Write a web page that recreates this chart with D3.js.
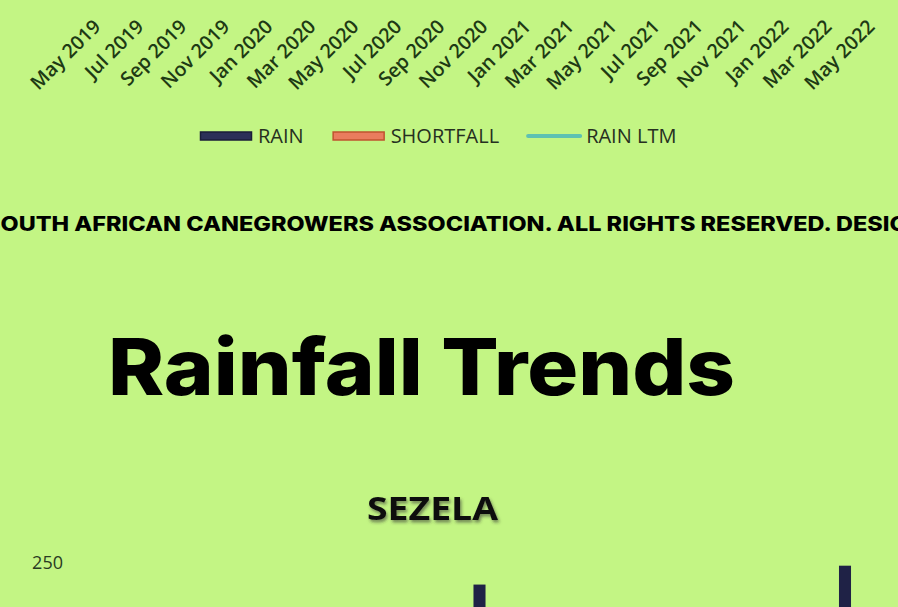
<!DOCTYPE html>
<html>
<head>
<meta charset="utf-8">
<script src="https://cdn.jsdelivr.net/npm/d3@7"></script>
<style>
  html, body { margin: 0; padding: 0; background: #c3f584; overflow: hidden; }
  svg { display: block; }
</style>
</head>
<body>
<script>
// monthly categories shared by both charts
const months = [
  'May 2019', 'Jun 2019', 'Jul 2019', 'Aug 2019', 'Sep 2019', 'Oct 2019', 'Nov 2019', 'Dec 2019',
  'Jan 2020', 'Feb 2020', 'Mar 2020', 'Apr 2020', 'May 2020', 'Jun 2020', 'Jul 2020', 'Aug 2020',
  'Sep 2020', 'Oct 2020', 'Nov 2020', 'Dec 2020', 'Jan 2021', 'Feb 2021', 'Mar 2021', 'Apr 2021',
  'May 2021', 'Jun 2021', 'Jul 2021', 'Aug 2021', 'Sep 2021', 'Oct 2021', 'Nov 2021', 'Dec 2021',
  'Jan 2022', 'Feb 2022', 'Mar 2022', 'Apr 2022', 'May 2022',
];

// every second month gets a label
const tickLabels = [
  'May 2019', 'Jul 2019', 'Sep 2019', 'Nov 2019', 'Jan 2020', 'Mar 2020', 'May 2020',
  'Jul 2020', 'Sep 2020', 'Nov 2020', 'Jan 2021', 'Mar 2021', 'May 2021', 'Jul 2021',
  'Sep 2021', 'Nov 2021', 'Jan 2022', 'Mar 2022', 'May 2022',
];

// SEZELA monthly rain (mm), only the two tallest bars are visible in the frame
const sezelaRain = [
  40, 25, 30, 45, 60, 95, 120, 140,
  150, 130, 110, 70, 45, 30, 20, 50,
  75, 130, 234, 160, 175, 140, 120, 90,
  35, 25, 15, 40, 80, 110, 145, 170,
  185, 120, 150, 248, 60,
];

const yTicks = [0, 50, 100, 150, 200, 250];

const legendItems = [
  { name: 'RAIN', kind: 'bar', fill: '#2c3058', stroke: '#1a1d38' },
  { name: 'SHORTFALL', kind: 'bar', fill: '#ea7c5e', stroke: '#c0532f' },
  { name: 'RAIN LTM', kind: 'line', fill: '#5dc1b2', stroke: '#5dc1b2' },
];

const width = 898;
const height = 607;
const excelFont = '"Open Sans", Lato, sans-serif';
const labelColor = '#1e3a14';

const svg = d3.select('body').append('svg')
  .attr('width', width)
  .attr('height', height);

svg.append('rect')
  .attr('width', width)
  .attr('height', height)
  .attr('fill', '#c3f584');

const defs = svg.append('defs');
defs.append('filter')
  .attr('id', 'shadow')
  .attr('x', '-10%').attr('y', '-30%').attr('width', '130%').attr('height', '180%')
  .append('feDropShadow')
  .attr('dx', 1.5).attr('dy', 2.5)
  .attr('stdDeviation', 1.6)
  .attr('flood-color', '#333')
  .attr('flood-opacity', 0.55);

// x scale: month centres step 21.5px
const step = 21.5;
const firstCentre = 92.5;
const x = d3.scaleBand()
  .domain(months)
  .range([firstCentre - step / 2, firstCentre - step / 2 + step * months.length])
  .paddingInner(0.44)
  .paddingOuter(0.22);

// ---- bottom of the previous chart: rotated axis labels ----
const xAxis = svg.append('g')
  .attr('transform', 'translate(0,10)')
  .call(d3.axisBottom(x).tickValues(tickLabels).tickSize(0));
xAxis.select('.domain').remove();
xAxis.selectAll('text')
  .attr('x', 0)
  .attr('y', 0)
  .attr('dy', '0.35em')
  .attr('text-anchor', 'end')
  .attr('transform', 'translate(4.5,13) rotate(-45)')
  .style('font-family', excelFont)
  .style('font-weight', 600)
  .style('font-size', '19.5px')
  .style('fill', labelColor);

// ---- legend ----
const legend = svg.append('g').attr('transform', 'translate(200,136)');
let lx = 0;
legendItems.forEach((d) => {
  const g = legend.append('g').attr('transform', `translate(${lx},0)`);
  if (d.kind === 'bar') {
    g.append('rect')
      .attr('x', 0.5).attr('y', -4)
      .attr('width', 51).attr('height', 8)
      .attr('fill', d.fill)
      .attr('stroke', d.stroke)
      .attr('stroke-width', 1.5);
  } else {
    g.append('line')
      .attr('x1', 0).attr('x2', 52)
      .attr('y1', 0).attr('y2', 0)
      .attr('stroke', d.stroke)
      .attr('stroke-width', 4)
      .attr('stroke-linecap', 'round');
  }
  const t = g.append('text')
    .attr('x', 58)
    .attr('dy', '0.35em')
    .style('font-family', excelFont)
    .style('font-size', '20px')
    .style('fill', '#26301f')
    .text(d.name);
  lx += 58 + t.node().getComputedTextLength() + 29;
});

// ---- page footer line ----
svg.append('text')
  .attr('x', -15)
  .attr('y', 231)
  .attr('textLength', 940)
  .attr('lengthAdjust', 'spacingAndGlyphs')
  .style('font-family', 'Inter, "Open Sans", sans-serif')
  .style('font-weight', 800)
  .style('font-size', '20px')
  .style('fill', '#000')
  .text('SOUTH AFRICAN CANEGROWERS ASSOCIATION. ALL RIGHTS RESERVED. DESIGN');

// ---- page heading ----
svg.append('text')
  .attr('x', 108)
  .attr('y', 395)
  .attr('textLength', 627)
  .attr('lengthAdjust', 'spacingAndGlyphs')
  .style('font-family', 'Inter, "Open Sans", sans-serif')
  .style('font-weight', 800)
  .style('font-size', '78px')
  .style('fill', '#000')
  .text('Rainfall Trends');

// ---- top of the SEZELA chart ----
svg.append('text')
  .attr('x', 367)
  .attr('y', 520)
  .attr('textLength', 131)
  .attr('lengthAdjust', 'spacingAndGlyphs')
  .attr('filter', 'url(#shadow)')
  .style('font-family', excelFont)
  .style('font-weight', 700)
  .style('font-size', '32px')
  .style('fill', '#111')
  .text('SEZELA');

const y = d3.scaleLinear()
  .domain([0, 250])
  .range([900, 563]);

const yAxis = svg.append('g')
  .attr('transform', 'translate(66,0)')
  .call(d3.axisLeft(y).tickValues(yTicks).tickSize(0).tickPadding(3));
yAxis.select('.domain').remove();
yAxis.selectAll('text')
  .style('font-family', excelFont)
  .style('font-size', '18px')
  .style('fill', '#2a3b22');

svg.append('g')
  .selectAll('rect')
  .data(sezelaRain)
  .join('rect')
  .attr('x', (d, i) => x(months[i]))
  .attr('y', d => y(d))
  .attr('width', x.bandwidth())
  .attr('height', d => y(0) - y(d))
  .attr('fill', '#1f2246');
</script>
</body>
</html>
